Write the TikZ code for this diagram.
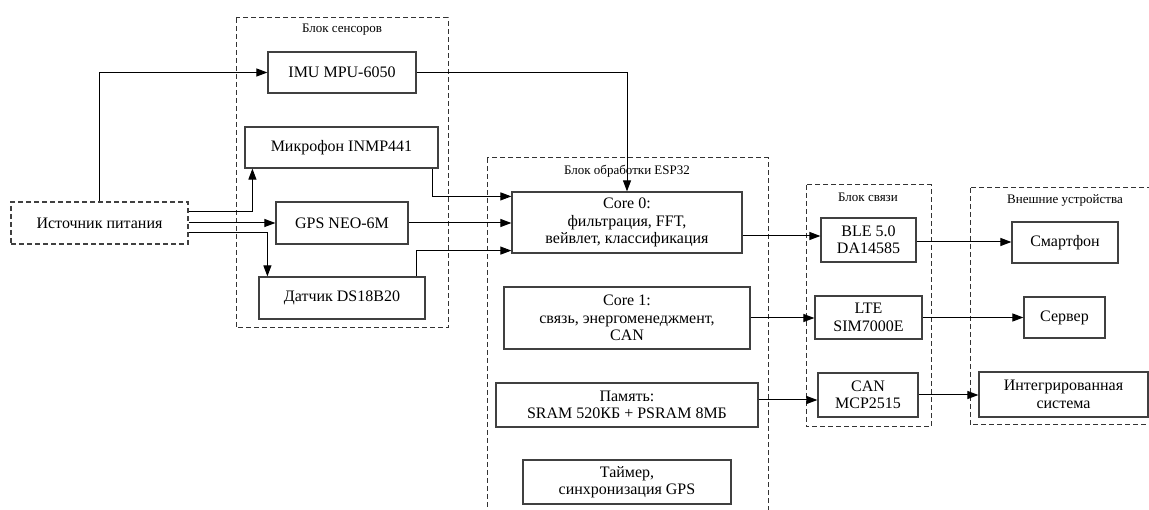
\documentclass[tikz,border=0pt]{standalone}
\usepackage{fontspec}
\setmainfont{Liberation Serif}
\usepackage{tikz}
\usetikzlibrary{arrows.meta,positioning}

\begin{document}
\begin{tikzpicture}[
    x=1pt, y=-1pt,
    box/.style={rectangle, draw=black!75, line width=1.2pt, inner sep=0pt, align=center, font=\fontsize{16}{17.5}\selectfont},
    group/.style={draw=black!80, line width=1pt, dash pattern=on 5pt off 3pt},
    grouplabel/.style={inner sep=0pt, font=\fontsize{13}{15}\selectfont},
    arr/.style={-{Triangle[length=11pt,width=8pt]}, line width=1pt}
]
    \useasboundingbox (0,0) rectangle (1149,510);

    % Groups
    \draw[group] (236,18) rectangle (448,328);
    \draw[group] (487,158) rectangle (768,530);
    \draw[group] (806,185) rectangle (931,427);
    \draw[group] (970,188) rectangle (1160,425);
    \node[grouplabel] (gsens) at (342,30) {Блок сенсоров};
    \node[grouplabel] (gproc) at (627,171) {Блок обработки ESP32};
    \node[grouplabel] (gcomm) at (868,197) {Блок связи};
    \node[grouplabel] (gext) at (1065,200) {Внешние устройства};

    % Power
    \node[box, dash pattern=on 5pt off 3pt, minimum width=177pt, minimum height=42pt] (pwr) at (99.5,223) {Источник питания};

    % Sensors
    \node[box, minimum width=148pt, minimum height=41pt] (imu) at (342,72.5) {IMU MPU-6050};
    \node[box, minimum width=193pt, minimum height=41pt] (mic) at (341.5,147.5) {Микрофон INMP441};
    \node[box, minimum width=132pt, minimum height=42pt] (gps) at (342,223) {GPS NEO-6M};
    \node[box, minimum width=166pt, minimum height=42pt] (ds) at (342,298) {Датчик DS18B20};

    % ESP32
    \node[box, minimum width=230pt, minimum height=61pt] (core0) at (627,222.5) {Core 0:\\фильтрация, FFT,\\вейвлет, классификация};
    \node[box, minimum width=246pt, minimum height=62pt] (core1) at (627,318) {Core 1:\\связь, энергоменеджмент,\\CAN};
    \node[box, minimum width=262pt, minimum height=44pt] (mem) at (627,405) {Память:\\SRAM 520КБ + PSRAM 8МБ};
    \node[box, minimum width=208pt, minimum height=44pt] (timer) at (627,482) {Таймер,\\синхронизация GPS};

    % Communication
    \node[box, minimum width=95pt, minimum height=44pt] (ble) at (868.5,240) {BLE 5.0\\DA14585};
    \node[box, minimum width=107pt, minimum height=43pt] (lte) at (868.5,317.5) {LTE\\SIM7000E};
    \node[box, minimum width=100pt, minimum height=44pt] (can) at (868,395) {CAN\\MCP2515};

    % External
    \node[box, minimum width=106pt, minimum height=41pt] (phone) at (1065,242.5) {Смартфон};
    \node[box, minimum width=81pt, minimum height=41pt] (server) at (1064.5,317.5) {Сервер};
    \node[box, minimum width=169pt, minimum height=45pt] (integ) at (1063.5,394.5) {Интегрированная\\система};

    % Power lines
    \draw[arr] (pwr.north) |- (imu.west);
    \draw[arr] ([yshift=11pt]pwr.east) -| ([xshift=8pt]mic.south west);
    \draw[arr] (pwr.east) -- (pwr.east -| gps.west);
    \draw[arr] ([yshift=-10pt]pwr.east) -| ([xshift=9pt]ds.north west);

    % Sensors to Core 0
    \draw[arr] (imu.east) -| (core0.north);
    \draw[arr] ([xshift=-6pt]mic.south east) |- ([yshift=-5pt]core0.north west);
    \draw[arr] (gps.east) -- (gps.east -| core0.west);
    \draw[arr] ([xshift=-9pt]ds.north east) |- ([yshift=3pt]core0.south west);

    % ESP32 to communication
    \draw[arr] ([yshift=-13.5pt]core0.east) coordinate (c0out) -- (c0out -| ble.west);
    \draw[arr] (core1.east) -- (core1.east -| lte.west);
    \draw[arr] ([yshift=5pt]mem.east) coordinate (memout) -- (memout -| can.west);

    % Communication to external
    \draw[arr] ([yshift=-2pt]ble.east) coordinate (bleout) -- (bleout -| phone.west);
    \draw[arr] (lte.east) -- (lte.east -| server.west);
    \draw[arr] (can.east) -- (can.east -| integ.west);
\end{tikzpicture}
\end{document}
